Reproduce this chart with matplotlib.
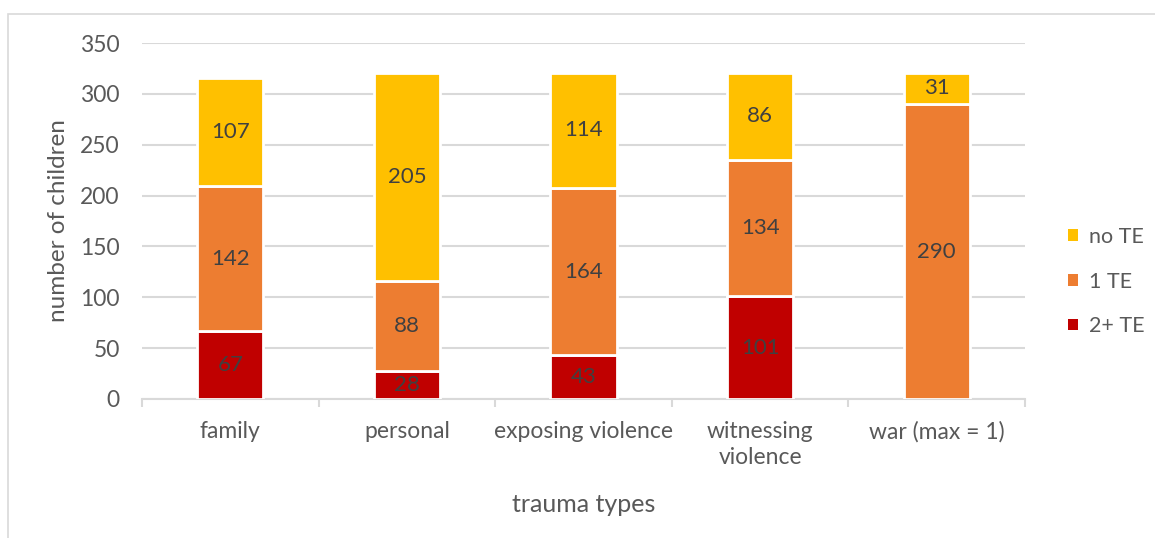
import matplotlib.pyplot as plt
import matplotlib.patches as mpatches
import numpy as np

plt.rcParams['font.family'] = ['Lato', 'DejaVu Sans']

categories = ["family", "personal", "exposing violence", "witnessing\nviolence", "war (max = 1)"]
two_plus_te = [67, 28, 43, 101, 0]
one_te = [142, 88, 164, 134, 290]
no_te = [107, 205, 114, 86, 31]

series = [("2+ TE", two_plus_te, "#C00000"),
          ("1 TE", one_te, "#ED7D31"),
          ("no TE", no_te, "#FFC000")]

fig = plt.figure(figsize=(11.55, 5.38), dpi=100)
ax = fig.add_axes([0.123, 0.2584, 0.7645, 0.6616])

# outer chart border
fig.patches.append(mpatches.Rectangle((8 / 1155, -0.1), 1.2, 1.1 - 14 / 538, transform=fig.transFigure,
                                      fill=False, edgecolor="#D9D9D9", linewidth=1.2, zorder=0))

x = np.arange(len(categories))
bottom = np.zeros(len(categories))
handles = []
for name, vals, color in series:
    vals = np.array(vals)
    bars = ax.bar(x, vals, width=0.375, bottom=bottom, color=color, edgecolor="white",
                  linewidth=2, zorder=3, label=name)
    for xi, b, v in zip(x, bottom, vals):
        if v > 0:
            ax.text(xi, b + v / 2, str(v), ha="center", va="center", fontsize=16, color="#404040", zorder=4)
    bottom += vals
    handles.append(bars)

ax.set_xlim(-0.5, len(categories) - 0.5)
ax.set_ylim(0, 350)
ax.set_yticks(range(0, 351, 50))
ax.yaxis.grid(True, color="#D9D9D9", linewidth=1.5, zorder=0)
ax.set_axisbelow(True)

ax.set_xticks(x)
ax.set_xticklabels(categories, linespacing=1.3)
ax.set_xticks(np.arange(-0.5, len(categories)), minor=True)
ax.tick_params(axis="x", which="major", length=0, pad=16, labelsize=16.5, labelcolor="#595959")
ax.tick_params(axis="x", which="minor", length=6, width=1.5, color="#D9D9D9")
ax.tick_params(axis="y", length=0, pad=16, labelsize=16.5, labelcolor="#595959")

for s in ["top", "right", "left"]:
    ax.spines[s].set_visible(False)
ax.spines["bottom"].set_color("#D9D9D9")
ax.spines["bottom"].set_linewidth(1.5)

ax.set_ylabel("number of children", fontsize=17.5, color="#595959", labelpad=8)
ax.set_xlabel("trauma types", fontsize=18, color="#595959", labelpad=18)

leg = ax.legend(handles=handles[::-1], loc="center left", bbox_to_anchor=(1.027, 0.33), frameon=False,
                fontsize=15.5, handlelength=0.45, handleheight=0.45, handletextpad=0.5, labelspacing=1.15,
                labelcolor="#595959")
for h in leg.legend_handles:
    h.set_edgecolor("none")

fig.savefig("out.png", dpi=100)
